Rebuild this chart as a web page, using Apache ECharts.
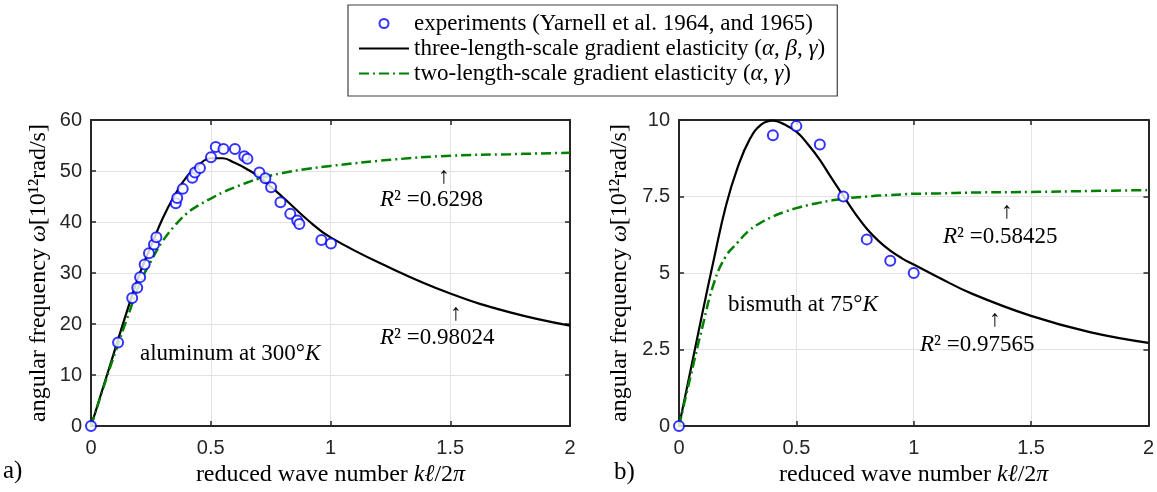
<!DOCTYPE html>
<html><head><meta charset="utf-8">
<script src="https://cdn.jsdelivr.net/npm/echarts@6/dist/echarts.min.js"></script>
<style>html,body{margin:0;padding:0;background:#fff}#c{width:1157px;height:492px}</style>
</head><body><div id="c"></div>
<script>
// ---- data ----
var legendNames = ['experiments (Yarnell et al. 1964, and 1965)',
  'three-length-scale gradient elasticity (α, β, γ)',
  'two-length-scale gradient elasticity (α, γ)'];
var xTicks = [0, 0.5, 1, 1.5, 2];
// aluminum (a)
var alExpX = [0, 0.113, 0.172, 0.193, 0.205, 0.224, 0.242, 0.263, 0.273, 0.354, 0.360, 0.383, 0.423, 0.434, 0.455, 0.501, 0.521, 0.553, 0.601, 0.640, 0.653, 0.703, 0.728, 0.752, 0.791, 0.832, 0.861, 0.870, 0.962, 1.002];
var alExpY = [0, 16.4, 25.1, 27.1, 29.2, 31.7, 33.9, 35.6, 37.0, 43.7, 44.7, 46.5, 48.7, 49.7, 50.6, 52.7, 54.7, 54.3, 54.3, 52.9, 52.4, 49.7, 48.6, 46.8, 43.9, 41.6, 40.3, 39.6, 36.5, 35.8];
var alCurveX = [0, 0.05, 0.1, 0.15, 0.2, 0.25, 0.3, 0.35, 0.4, 0.45, 0.5, 0.55, 0.6, 0.65, 0.7, 0.8, 0.9, 1.0, 1.25, 1.5, 1.75, 2.0];
var alThree = [0, 7.5, 15, 22.5, 29.5, 35.2, 40.8, 45.3, 48.9, 51.2, 52.5, 52.5, 51.6, 50.4, 48.9, 44.9, 40.6, 37.0, 31.0, 26.0, 22.3, 19.7];
var alTwo = [0, 7.3, 14.3, 21.0, 27.5, 32.3, 36.3, 39.3, 41.7, 43.3, 44.6, 45.8, 46.8, 47.7, 48.5, 49.6, 50.4, 51.0, 52.2, 53.0, 53.3, 53.6];
var alYTicks = [0, 10, 20, 30, 40, 50, 60];
// bismuth (b)
var biExpX = [0, 0.4, 0.5, 0.6, 0.7, 0.8, 0.9, 1.0];
var biExpY = [0, 9.5, 9.8, 9.2, 7.5, 6.1, 5.4, 5.0];
var biCurveX = [0, 0.05, 0.1, 0.15, 0.2, 0.25, 0.3, 0.35, 0.4, 0.45, 0.5, 0.55, 0.6, 0.65, 0.7, 0.75, 0.8, 0.85, 0.9, 0.95, 1.0, 1.1, 1.25, 1.5, 1.75, 2.0];
var biThree = [0, 1.85, 3.7, 5.5, 7.2, 8.45, 9.35, 9.85, 9.98, 9.85, 9.62, 9.2, 8.7, 8.1, 7.52, 6.95, 6.45, 6.05, 5.73, 5.48, 5.28, 4.88, 4.32, 3.6, 3.07, 2.72];
var biTwo = [0, 1.65, 3.25, 4.7, 5.55, 6.0, 6.4, 6.65, 6.85, 7.0, 7.12, 7.22, 7.3, 7.37, 7.43, 7.47, 7.5, 7.53, 7.55, 7.57, 7.59, 7.6, 7.63, 7.65, 7.68, 7.71];
var biYTicks = [0, 2.5, 5, 7.5, 10];

function pairs(xs, ys) { return xs.map(function (x, i) { return [x, ys[i]]; }); }

var SERIF = '"Liberation Serif", "Times New Roman", serif';
var SANS = '"Liberation Sans", Arial, sans-serif';
var FRAME = '#262626';
function mkRich(fs) {
  return {
    i: { fontFamily: SERIF, fontStyle: 'italic', fontSize: fs, color: '#000' },
    n: { fontFamily: SERIF, fontSize: fs, color: '#000' }
  };
}
var richTitle = mkRich(24), richLegend = mkRich(23), richAnn = mkRich(23);

function xAx(g, isMain) {
  return {
    type: 'value', gridIndex: g, min: xTicks[0], max: xTicks[xTicks.length - 1], interval: 0.5,
    position: isMain ? 'bottom' : 'top',
    axisLine: { show: true, onZero: false, lineStyle: { color: FRAME, width: 2 } },
    axisTick: { show: true, inside: true, length: 5, lineStyle: { color: FRAME, width: 1.5 } },
    axisLabel: { show: isMain, color: FRAME, fontFamily: SANS, fontSize: 20, margin: 12 },
    splitLine: { show: isMain, lineStyle: { color: '#e3e3e3', width: 1 } },
    name: isMain ? '{n|reduced wave number }{i|kℓ}{n|/2}{i|π}' : '',
    nameLocation: 'middle', nameGap: 33,
    nameTextStyle: { rich: richTitle, fontFamily: SERIF, fontSize: 24, color: '#000' }
  };
}
function yAx(g, isMain, ticks, interval, gap) {
  return {
    type: 'value', gridIndex: g, min: ticks[0], max: ticks[ticks.length - 1], interval: interval,
    position: isMain ? 'left' : 'right',
    axisLine: { show: true, onZero: false, lineStyle: { color: FRAME, width: 2 } },
    axisTick: { show: true, inside: true, length: 5, lineStyle: { color: FRAME, width: 1.5 } },
    axisLabel: { show: isMain, color: FRAME, fontFamily: SANS, fontSize: 20, margin: 9 },
    splitLine: { show: isMain, lineStyle: { color: '#e3e3e3', width: 1 } },
    name: isMain ? '{n|angular frequency }{i|ω}{n|[10¹²rad/s]}' : '',
    nameLocation: 'middle', nameGap: gap,
    nameTextStyle: { rich: richTitle, fontFamily: SERIF, fontSize: 24, color: '#000' }
  };
}

var dashDot = [10, 4, 2, 4];
function expSeries(xi, yi, xs, ys) {
  return { name: legendNames[0], type: 'scatter', xAxisIndex: xi, yAxisIndex: yi,
    data: pairs(xs, ys), symbol: 'emptyCircle', symbolSize: 10, z: 5,
    itemStyle: { color: '#0000ff', borderColor: '#0000ff', borderWidth: 2.2 } };
}
function lineSeries(name, xi, yi, xs, ys, color, type, w) {
  return { name: name, type: 'line', xAxisIndex: xi, yAxisIndex: yi, data: pairs(xs, ys),
    smooth: 0.45, showSymbol: false, symbol: 'none', z: 3,
    lineStyle: { color: color, width: w, type: type }, itemStyle: { color: color } };
}

function txt(x, y, text, align) {
  return { type: 'text', x: x, y: y, z: 100, style: { text: text, rich: richAnn,
    font: '23px ' + SERIF, fill: '#000', textAlign: align || 'left', textVerticalAlign: 'middle' } };
}

var option = {
  animation: false,
  backgroundColor: '#fff',
  grid: [
    { left: 91, right: 587, top: 120, bottom: 65 },
    { left: 679, right: 1, top: 120, bottom: 65 }
  ],
  xAxis: [xAx(0, true), xAx(0, false), xAx(1, true), xAx(1, false)],
  yAxis: [yAx(0, true, alYTicks, 10, 40), yAx(0, false, alYTicks, 10, 40),
          yAx(1, true, biYTicks, 2.5, 47), yAx(1, false, biYTicks, 2.5, 47)],
  legend: {
    data: [
      { name: legendNames[0], itemStyle: { borderWidth: 2.5 } },
      { name: legendNames[1], itemStyle: { opacity: 0 } },
      { name: legendNames[2], itemStyle: { opacity: 0 } }
    ],
    orient: 'vertical', left: 348, top: 5,
    padding: [7, 12, 11, 10], itemGap: 2, itemWidth: 50, itemHeight: 9,
    backgroundColor: '#fff', borderColor: '#404040', borderWidth: 1.2,
    textStyle: { fontFamily: SERIF, fontSize: 23, color: '#000', rich: richLegend },
    formatter: function (name) {
      if (name === legendNames[0]) return '{n|experiments (Yarnell et al. 1964, and 1965)}';
      if (name === legendNames[1]) return '{n|three-length-scale gradient elasticity (}{i|α}{n|, }{i|β}{n|, }{i|γ}{n|)}';
      return '{n|two-length-scale gradient elasticity (}{i|α}{n|, }{i|γ}{n|)}';
    }
  },
  series: [
    expSeries(0, 0, alExpX, alExpY),
    lineSeries(legendNames[1], 0, 0, alCurveX, alThree, '#000000', 'solid', 2.2),
    lineSeries(legendNames[2], 0, 0, alCurveX, alTwo, '#008000', dashDot, 2.5),
    expSeries(2, 2, biExpX, biExpY),
    lineSeries(legendNames[1], 2, 2, biCurveX, biThree, '#000000', 'solid', 2.2),
    lineSeries(legendNames[2], 2, 2, biCurveX, biTwo, '#008000', dashDot, 2.5)
  ],
  graphic: [
    txt(444, 177, '↑', 'center'),
    txt(380, 200, '{i|R}{n|² =0.6298}'),
    txt(456, 314, '↑', 'center'),
    txt(380, 338, '{i|R}{n|² =0.98024}'),
    txt(140, 354, '{n|aluminum at 300°}{i|K}'),
    txt(1007, 212, '↑', 'center'),
    txt(943, 237, '{i|R}{n|² =0.58425}'),
    txt(995, 320, '↑', 'center'),
    txt(920, 345, '{i|R}{n|² =0.97565}'),
    txt(728, 305, '{n|bismuth at 75°}{i|K}'),
    { type: 'text', x: 3, y: 471, style: { text: 'a)', font: '25px ' + SERIF, fill: '#000', textVerticalAlign: 'middle' } },
    { type: 'text', x: 614, y: 472, style: { text: 'b)', font: '25px ' + SERIF, fill: '#000', textVerticalAlign: 'middle' } }
  ]
};
var chart = echarts.init(document.getElementById('c'), null, { renderer: 'canvas' });
chart.setOption(option);
</script></body></html>
